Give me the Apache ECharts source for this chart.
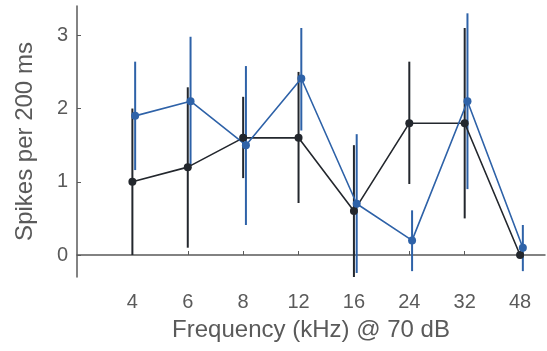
<!DOCTYPE html>
<html>
<head>
<meta charset="utf-8">
<script src="https://cdn.jsdelivr.net/npm/echarts@6/dist/echarts.min.js"></script>
<style>html,body{margin:0;padding:0;background:#fff}#c{width:547px;height:351px}</style>
</head>
<body>
<div id="c"></div>
<script>
var categories = ['4', '6', '8', '12', '16', '24', '32', '48'];
var yTicks = [0, 1, 2, 3];

var blackMean = [1.0, 1.2, 1.6, 1.6, 0.6, 1.8, 1.8, 0.0];
var blackLow  = [0.0, 0.1, 1.05, 0.71, -0.35, 0.97, 0.5, 0.0];
var blackHigh = [2.0, 2.29, 2.16, 2.5, 1.5, 2.64, 3.1, 0.0];

var blueMean = [1.9, 2.1, 1.5, 2.41, 0.7, 0.2, 2.1, 0.1];
var blueLow  = [1.16, 1.22, 0.41, 1.7, -0.245, -0.22, 0.9, -0.22];
var blueHigh = [2.64, 2.98, 2.58, 3.1, 1.65, 0.61, 3.3, 0.41];

var BLACK = '#23272d';
var BLUE = '#2e62a8';
var GRAY = '#5a5a5a';
var FONT = 'Liberation Sans, Arial, sans-serif';

function pts(mean, off) {
  return mean.map(function (v, i) { return [i + 1 + off, v]; });
}
function bars(low, high, off) {
  return low.map(function (v, i) { return [i + 1 + off, v, high[i]]; });
}
function errSeries(low, high, off, color) {
  return {
    type: 'custom',
    clip: true,
    silent: true,
    data: bars(low, high, off),
    renderItem: function (params, api) {
      var a = api.coord([api.value(0), api.value(1)]);
      var b = api.coord([api.value(0), api.value(2)]);
      return {
        type: 'line',
        shape: { x1: a[0], y1: a[1], x2: b[0], y2: b[1] },
        style: { stroke: color, lineWidth: 2 }
      };
    }
  };
}
function lineSeries(mean, off, color) {
  return {
    type: 'line',
    data: pts(mean, off),
    symbol: 'circle',
    symbolSize: 8,
    lineStyle: { color: color, width: 1.6 },
    itemStyle: { color: color },
    silent: true,
    animation: false
  };
}

var chart = echarts.init(document.getElementById('c'));
chart.setOption({
  animation: false,
  grid: { left: 77, right: 2, top: 6, bottom: 74 },
  xAxis: {
    type: 'value', min: 0, max: 8.45,
    name: 'Frequency (kHz) @ 70 dB',
    nameLocation: 'middle', nameGap: 41,
    nameTextStyle: { fontFamily: FONT, fontSize: 24, color: GRAY },
    axisLine: { lineStyle: { color: GRAY, width: 1.5 } },
    axisTick: { inside: true, length: 4, lineStyle: { color: GRAY, width: 1 },
      customValues: [1, 2, 3, 4, 5, 6, 7, 8] },
    axisLabel: { customValues: [1, 2, 3, 4, 5, 6, 7, 8], margin: 15,
      fontFamily: FONT, fontSize: 20, color: GRAY,
      formatter: function (v) { return categories[Math.round(v) - 1] || ''; } },
    splitLine: { show: false }
  },
  yAxis: {
    type: 'value', min: -0.3, max: 3.4,
    name: 'Spikes per 200 ms',
    nameLocation: 'middle', nameGap: 40,
    nameTextStyle: { fontFamily: FONT, fontSize: 24, color: GRAY },
    axisLine: { show: true, lineStyle: { color: GRAY, width: 1.5 } },
    axisTick: { show: true, inside: true, length: 4, lineStyle: { color: GRAY, width: 1 },
      customValues: yTicks },
    axisLabel: { customValues: yTicks, margin: 9, fontFamily: FONT, fontSize: 20, color: GRAY },
    splitLine: { show: false }
  },
  series: [
    errSeries(blackLow, blackHigh, 0, BLACK),
    lineSeries(blackMean, 0, BLACK),
    errSeries(blueLow, blueHigh, 0.05, BLUE),
    lineSeries(blueMean, 0.05, BLUE)
  ]
});
</script>
</body>
</html>
